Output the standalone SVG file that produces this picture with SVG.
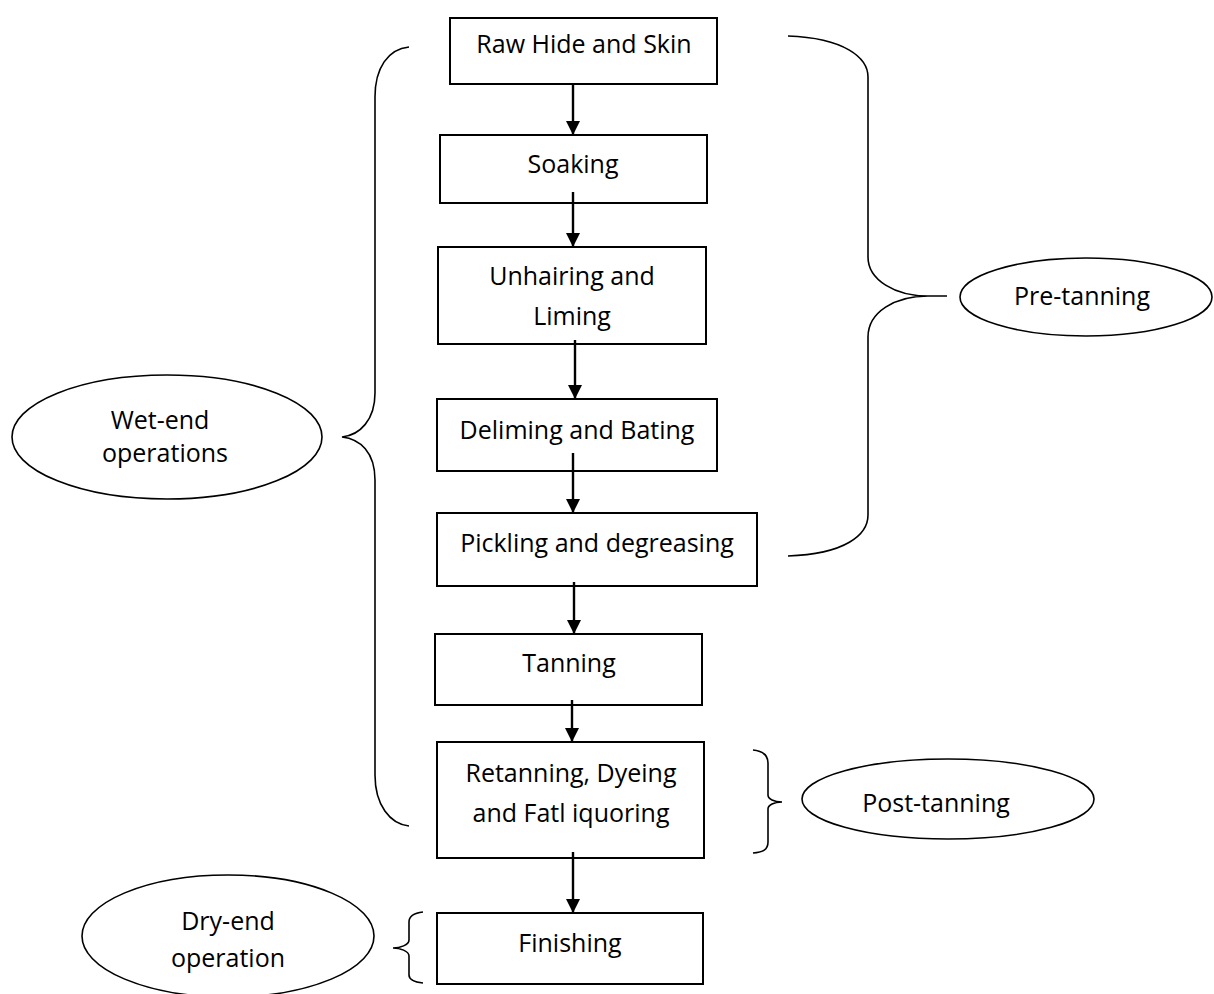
<svg xmlns="http://www.w3.org/2000/svg" width="1214" height="994" viewBox="0 0 1214 994">
<style>
.box{fill:#fff;stroke:#000;stroke-width:2}
.ell{fill:#fff;stroke:#000;stroke-width:1.6}
.brace{fill:none;stroke:#000;stroke-width:1.6}
.arr{stroke:#000;stroke-width:2.4;fill:none;marker-end:url(#ah)}
text{font-family:"Open Sans","Liberation Sans",sans-serif;font-size:25px;fill:#000;text-anchor:middle}
</style>
<defs>
<marker id="ah" viewBox="0 0 14 14" refX="14" refY="7" markerWidth="14" markerHeight="14" markerUnits="userSpaceOnUse" orient="auto">
<path d="M0,0 L14,7 L0,14 Z" fill="#000"/>
</marker>
</defs>
<rect width="1214" height="994" fill="#fff"/>
<g id="n1"><rect class="box" x="450" y="18" width="267" height="66"/><text x="584" y="53">Raw Hide and Skin</text></g>
<g id="n2"><rect class="box" x="440" y="135" width="267" height="68"/><text x="573" y="173">Soaking</text></g>
<g id="n3"><rect class="box" x="438" y="247" width="268" height="97"/><text x="572" y="285">Unhairing and</text><text x="572" y="325">Liming</text></g>
<g id="n4"><rect class="box" x="437" y="399" width="280" height="72"/><text x="577" y="439">Deliming and Bating</text></g>
<g id="n5"><rect class="box" x="437" y="513" width="320" height="73"/><text x="597" y="552">Pickling and degreasing</text></g>
<g id="n6"><rect class="box" x="435" y="634" width="267" height="71"/><text x="569" y="672">Tanning</text></g>
<g id="n7"><rect class="box" x="437" y="742" width="267" height="116"/><text x="571" y="782">Retanning, Dyeing</text><text x="571" y="822">and Fatl iquoring</text></g>
<g id="n8"><rect class="box" x="437" y="913" width="266" height="71"/><text x="570" y="952">Finishing</text></g>
<g id="e1"><ellipse class="ell" cx="1086" cy="297" rx="126" ry="39"/><text x="1082" y="305">Pre-tanning</text></g>
<g id="e2"><ellipse class="ell" cx="167" cy="437" rx="155" ry="62"/><text x="160" y="429">Wet-end</text><text x="165" y="462">operations</text></g>
<g id="e3"><ellipse class="ell" cx="948" cy="799" rx="146" ry="40"/><text x="936" y="812">Post-tanning</text></g>
<g id="e4"><ellipse class="ell" cx="228" cy="936" rx="146" ry="61"/><text x="228" y="930">Dry-end</text><text x="228" y="967">operation</text></g>
<g id="braces">
<path class="brace" d="M409,47 C388,49 375,68 375,97 L375,393 C375,420 360,435 342,437 C360,439 375,452 375,480 L375,775 C375,805 390,824 409,826"/>
<path class="brace" d="M788,36 C845,38 868,58 868,77 L868,257 C868,280 895,296 928,296 L947,296 M928,296 C895,296 868,312 868,337 L868,515 C868,535 845,554 788,556"/>
<path class="brace" d="M753,750 C763,751 768,755 768,763 L768,795 C768,799 774,802 782,802 C774,802 768,805 768,809 L768,842 C768,850 763,852 753,853"/>
<path class="brace" d="M423,912 C414,913 409,916 409,922 L409,940 C409,945 400,948 393,948 C400,948 409,951 409,956 L409,975 C409,980 414,982 423,983"/>
</g>
<g id="connectors">
<line class="arr" x1="573" y1="84" x2="573" y2="135"/>
<line class="arr" x1="573" y1="192" x2="573" y2="247"/>
<line class="arr" x1="575" y1="340" x2="575" y2="399"/>
<line class="arr" x1="573" y1="453" x2="573" y2="513"/>
<line class="arr" x1="574" y1="582" x2="574" y2="634"/>
<line class="arr" x1="572" y1="700" x2="572" y2="742"/>
<line class="arr" x1="573" y1="852" x2="573" y2="913"/>
</g>
</svg>
